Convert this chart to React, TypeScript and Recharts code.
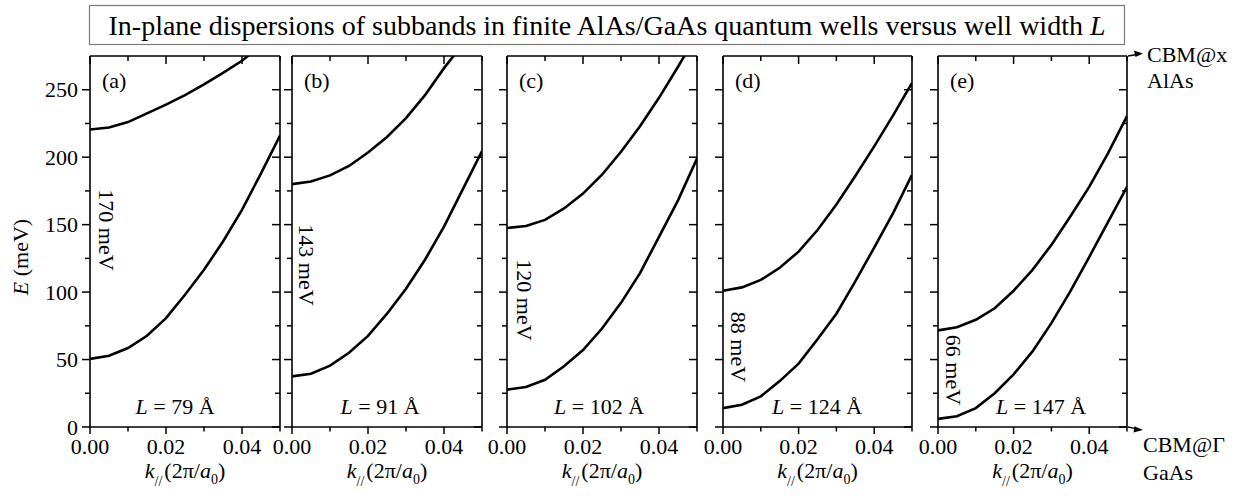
import React from 'react';
import { LineChart, Line, XAxis, YAxis } from 'recharts';

// in-plane wave vector k (2π/a0)
const kValues = [0, 0.005, 0.01, 0.015, 0.02, 0.025, 0.03, 0.035, 0.04, 0.045, 0.05];

// subband energies (meV), upper and lower subband per well
const upperA = [220.5, 222, 226, 232.5, 239, 246, 254, 262.5, 271.5, 283, 295];
const lowerA = [50.5, 52.8, 58.5, 67.6, 80.7, 98, 116.5, 137.5, 161, 188, 216];
const upperB = [180, 182, 186.5, 193.5, 203.5, 215, 229, 246, 266, 284, 302];
const lowerB = [37.5, 39.5, 45.5, 55, 67.5, 84, 102.5, 124, 148.5, 176.5, 204.5];
const upperC = [147.5, 149, 153.5, 162, 173, 187, 204, 223, 244, 267, 291];
const lowerC = [27.7, 29.6, 35, 45, 57, 73, 92, 114, 141, 168, 199];
const upperD = [101, 103.5, 109, 118, 130, 146, 165, 186, 208, 231, 255];
const lowerD = [14, 16.5, 22.7, 34, 47, 65, 84, 108, 133, 158.5, 187];
const upperE = [71.6, 74, 79.5, 88, 101, 116.5, 135, 156, 178, 203, 230.5];
const lowerE = [6, 8, 14, 25, 39, 56, 77, 100.5, 126, 152, 178];

const panelLetters = ['a', 'b', 'c', 'd', 'e'];
const wellWidths = [79, 91, 102, 124, 147];
const gapLabels = [170, 143, 120, 88, 66];

const xTicks = [0, 0.01, 0.02, 0.03, 0.04, 0.05];
const yTicks = [0, 25, 50, 75, 100, 125, 150, 175, 200, 225, 250];

const uppers = [upperA, upperB, upperC, upperD, upperE];
const lowers = [lowerA, lowerB, lowerC, lowerD, lowerE];

const rows = kValues.map((k, j) => {
    const row: Record<string, number> = { k };
    uppers.forEach((s, i) => { row[`u${i}`] = s[j]; });
    lowers.forEach((s, i) => { row[`l${i}`] = s[j]; });
    return row;
});

// layout (pixels)
const plotLeft = [90, 292, 507, 723, 938];
const plotWidth = [190, 190, 190, 189, 189];
const plotTop = 56;
const plotBottom = 427;
const H = 496;
const gapPos = [[106, 230], [306, 265], [524, 300], [738, 347], [953, 370]];
const wellLabelX = [175, 380, 599, 817, 1041];

const FONT = "'Liberation Serif', 'Times New Roman', serif";
const BLACK = '#000';

const LeftTick = ({ x, y, payload, showLabel }: any) => {
    const v = payload.value;
    const major = v % 50 === 0;
    const len = major ? 8 : 5;
    return (
        <g>
            <line x1={x} y1={y} x2={x - len} y2={y} stroke={BLACK} strokeWidth={1.5} />
            {showLabel && major && (
                <text x={x - 12} y={y + 7.5} textAnchor="end" fontSize={22} fontFamily={FONT} fill={BLACK}>
                    {v}
                </text>
            )}
        </g>
    );
};

const RightTick = ({ x, y, payload }: any) => {
    const len = payload.value % 50 === 0 ? 8 : 5;
    return <line x1={x} y1={y} x2={x - len} y2={y} stroke={BLACK} strokeWidth={1.5} />;
};

const isMajorK = (v: number) => {
    const idx = Math.round(v / 0.01);
    return idx % 2 === 0 && idx < 5;
};

const TopTick = ({ x, y, payload }: any) => {
    const len = isMajorK(payload.value) ? 8 : 5;
    return <line x1={x} y1={y} x2={x} y2={y + len} stroke={BLACK} strokeWidth={1.5} />;
};

const BottomTick = ({ x, y, payload }: any) => {
    const major = isMajorK(payload.value);
    const len = major ? 7 : 4.5;
    return (
        <g>
            <line x1={x} y1={y} x2={x} y2={y + len} stroke={BLACK} strokeWidth={1.5} />
            {major && (
                <text x={x} y={y + 27} textAnchor="middle" fontSize={22} fontFamily={FONT} fill={BLACK}>
                    {payload.value.toFixed(2)}
                </text>
            )}
        </g>
    );
};

const frame = { stroke: BLACK, strokeWidth: 1.6 };

const Panel = ({ i }: { i: number }) => {
    const leftPad = i === 0 ? 90 : 30;
    const rightPad = 12;
    const w = plotWidth[i];
    return (
        <div style={{ position: 'absolute', left: plotLeft[i] - leftPad, top: 0 }}>
            <LineChart
                width={leftPad + w + rightPad}
                height={H}
                data={rows}
                margin={{ top: plotTop - 1, right: rightPad - 1, bottom: 0, left: 0 }}
            >
                <XAxis
                    xAxisId="bottom"
                    orientation="bottom"
                    dataKey="k"
                    type="number"
                    domain={[0, 0.05]}
                    allowDataOverflow
                    ticks={xTicks}
                    interval={0}
                    height={H - plotBottom}
                    tickSize={0}
                    tickMargin={0}
                    tickLine={false}
                    axisLine={frame}
                    tick={BottomTick}
                />
                <XAxis
                    xAxisId="top"
                    orientation="top"
                    dataKey="k"
                    type="number"
                    domain={[0, 0.05]}
                    allowDataOverflow
                    ticks={xTicks}
                    interval={0}
                    height={1}
                    tickSize={0}
                    tickMargin={0}
                    tickLine={false}
                    axisLine={frame}
                    tick={TopTick}
                />
                <YAxis
                    yAxisId="left"
                    type="number"
                    domain={[0, 275]}
                    allowDataOverflow
                    ticks={yTicks}
                    interval={0}
                    width={leftPad}
                    tickSize={0}
                    tickMargin={0}
                    tickLine={false}
                    axisLine={frame}
                    tick={(p: any) => <LeftTick {...p} showLabel={i === 0} />}
                />
                <YAxis
                    yAxisId="right"
                    orientation="right"
                    type="number"
                    domain={[0, 275]}
                    allowDataOverflow
                    ticks={yTicks}
                    interval={0}
                    width={1}
                    tickSize={0}
                    tickMargin={0}
                    tickLine={false}
                    axisLine={frame}
                    tick={RightTick}
                />
                <Line
                    xAxisId="bottom"
                    yAxisId="left"
                    type="linear"
                    dataKey={`u${i}`}
                    stroke={BLACK}
                    strokeWidth={2.6}
                    dot={false}
                    isAnimationActive={false}
                />
                <Line
                    xAxisId="bottom"
                    yAxisId="left"
                    type="linear"
                    dataKey={`l${i}`}
                    stroke={BLACK}
                    strokeWidth={2.6}
                    dot={false}
                    isAnimationActive={false}
                />
            </LineChart>
        </div>
    );
};

const App: React.FC = () => {
    return (
        <div
            style={{
                position: 'absolute',
                left: 0,
                top: 0,
                width: 1236,
                height: H,
                background: '#fff',
                fontFamily: FONT,
                overflow: 'hidden',
            }}
        >
            {panelLetters.map((_, i) => (
                <Panel key={i} i={i} />
            ))}
            <svg
                width={1236}
                height={H}
                style={{ position: 'absolute', left: 0, top: 0, pointerEvents: 'none' }}
                fontFamily={FONT}
                fill={BLACK}
            >
                <rect x={89.5} y={5.5} width={1035} height={39} fill="none" stroke="#7a7a7a" strokeWidth={1.2} />
                <text x={607} y={35} textAnchor="middle" fontSize={28}>
                    In-plane dispersions of subbands in finite AlAs/GaAs quantum wells versus well width{' '}
                    <tspan fontStyle="italic">L</tspan>
                </text>

                <text x={28} y={257} textAnchor="middle" fontSize={22} transform="rotate(-90 28 257)">
                    <tspan fontStyle="italic">E</tspan> (meV)
                </text>

                {panelLetters.map((letter, i) => {
                    const cx = plotLeft[i] + plotWidth[i] / 2;
                    const [gx, gy] = gapPos[i];
                    return (
                        <g key={letter}>
                            <text x={plotLeft[i] + 12} y={88} fontSize={22}>
                                ({letter})
                            </text>
                            <text x={wellLabelX[i]} y={414} textAnchor="middle" fontSize={22}>
                                <tspan fontStyle="italic">L</tspan> = {wellWidths[i]} Å
                            </text>
                            <text
                                x={gx - 7}
                                y={gy}
                                textAnchor="middle"
                                fontSize={22}
                                transform={`rotate(90 ${gx - 7} ${gy})`}
                            >
                                {gapLabels[i]} meV
                            </text>
                            <text x={cx} y={478} textAnchor="middle" fontSize={22}>
                                <tspan fontStyle="italic">k</tspan>
                                <tspan fontSize={14} dy={8}>//</tspan>
                                <tspan dy={-8} dx={2}>(2π/</tspan>
                                <tspan fontStyle="italic">a</tspan>
                                <tspan fontSize={14} dy={6}>0</tspan>
                                <tspan dy={-6}>)</tspan>
                            </text>
                        </g>
                    );
                })}

                <line x1={1128} y1={56} x2={1137} y2={54.5} stroke={BLACK} strokeWidth={1.3} />
                <polygon points="1143,53.5 1134,50.5 1135.5,57" fill={BLACK} />
                <text x={1147} y={62} fontSize={22}>CBM@x</text>
                <text x={1147} y={88} fontSize={22}>AlAs</text>

                <line x1={1128} y1={427} x2={1137} y2={428.8} stroke={BLACK} strokeWidth={1.3} />
                <polygon points="1143,430 1134.5,426.2 1133.5,432.6" fill={BLACK} />
                <text x={1143} y={452} fontSize={22}>CBM@Γ</text>
                <text x={1143} y={480} fontSize={22}>GaAs</text>
            </svg>
        </div>
    );
};

export default App;
